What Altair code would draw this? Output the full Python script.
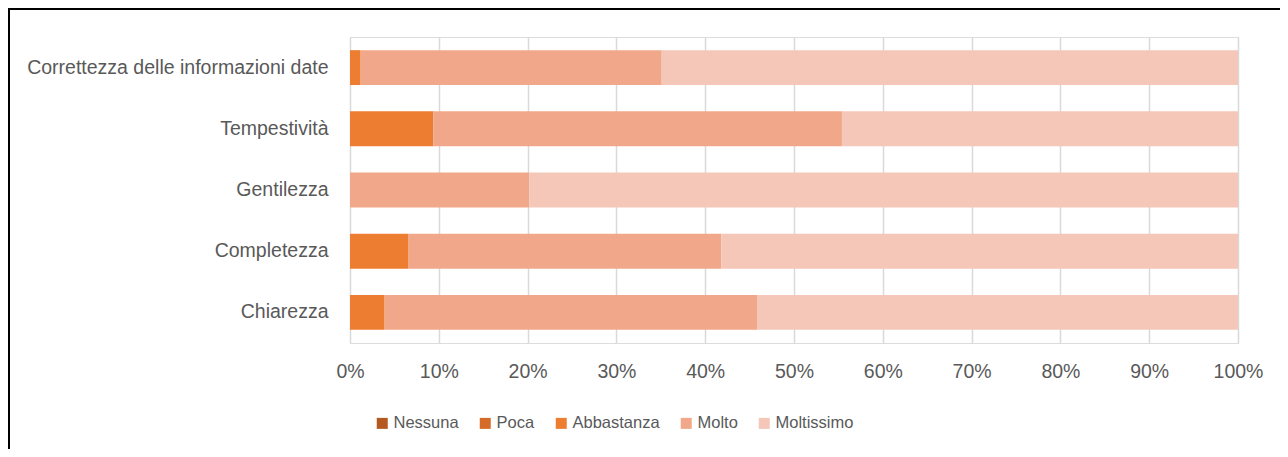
import altair as alt
import pandas as pd

categories = ["Correttezza delle informazioni date", "Tempestività", "Gentilezza", "Completezza", "Chiarezza"]
levels = ["Nessuna", "Poca", "Abbastanza", "Molto", "Moltissimo"]
colors = ["#B4591F", "#D46B28", "#ED7D31", "#F1A88A", "#F5C7B8"]

nessuna = [0.0, 0.0, 0.0, 0.0, 0.0]
poca = [0.0, 0.0, 0.0, 0.0, 0.0]
abbastanza = [1.2, 9.4, 0.0, 6.6, 3.9]
molto = [33.9, 46.0, 20.2, 35.2, 42.0]
moltissimo = [64.9, 44.6, 79.8, 58.2, 54.1]

series = [nessuna, poca, abbastanza, molto, moltissimo]
rows = []
for li, (lev, vals) in enumerate(zip(levels, series)):
    for cat, v in zip(categories, vals):
        rows.append({"cat": cat, "level": lev, "ord": li, "value": v / 100.0})
df = pd.DataFrame(rows)

FONT = "Liberation Sans"
GRAY = "#595959"

bars = alt.Chart(df).mark_bar().encode(
    y=alt.Y("cat:N", sort=categories, title=None,
            scale=alt.Scale(paddingInner=0.43, paddingOuter=0.215),
            axis=alt.Axis(labelFont=FONT, labelFontSize=19.5, labelColor=GRAY,
                          labelPadding=22, labelLimit=500, ticks=False, domain=False, grid=False)),
    x=alt.X("value:Q", stack="zero", title=None,
            scale=alt.Scale(domain=[0, 1], nice=False),
            axis=alt.Axis(format="%", values=[i / 10 for i in range(11)],
                          labelFont=FONT, labelFontSize=19.5, labelColor=GRAY,
                          labelPadding=19, labelFlush=False, ticks=False, domain=False,
                          grid=True, gridColor="#D9D9D9", gridWidth=1.5)),
    color=alt.Color("level:N", sort=levels,
                    scale=alt.Scale(domain=levels, range=colors),
                    legend=alt.Legend(title=None, orient="none", direction="horizontal",
                                      legendX=24, legendY=378, symbolType="square",
                                      symbolSize=121, symbolStrokeWidth=0,
                                      labelFont=FONT, labelFontSize=16.5, labelColor=GRAY,
                                      labelOffset=3, columnPadding=18, padding=0)),
    order=alt.Order("ord:Q"),
)

frame = pd.DataFrame({"a": [0]})
left_border = alt.Chart(frame).mark_rule(color="black", strokeWidth=2).encode(
    x=alt.value(-341), y=alt.value(-29), y2=alt.value(420)
)
top_border = alt.Chart(frame).mark_rule(color="black", strokeWidth=2).encode(
    x=alt.value(-342), x2=alt.value(940), y=alt.value(-28)
)

chart = alt.layer(bars, left_border, top_border).properties(
    width=888, height=306,
    autosize=alt.AutoSizeParams(type="none"),
    padding={"left": 342, "top": 29, "right": 42, "bottom": 106},
).configure_view(stroke=None).configure(background="white")

chart.save("out.html", embed_options={"renderer": "svg", "actions": False})
